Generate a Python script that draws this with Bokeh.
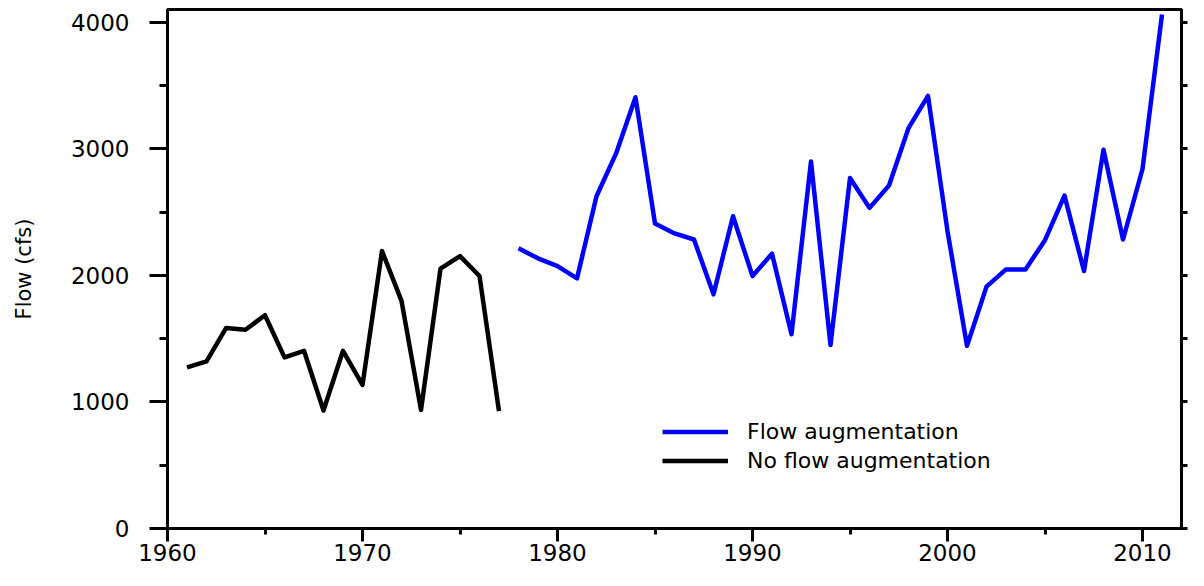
from bokeh.plotting import figure
from bokeh.models import (LinearAxis, SingleIntervalTicker, FixedTicker, Range1d, Legend, LegendItem)
from bokeh.embed import file_html
from bokeh.resources import INLINE

# ---- data ----
years_no = list(range(1961, 1978))
flow_no = [1273, 1320, 1583, 1570, 1685, 1352, 1404, 932, 1404, 1134,
           2192, 1798, 937, 2053, 2152, 1995, 927]

years_aug = list(range(1978, 2012))
flow_aug = [2213, 2134, 2073, 1976, 2625, 2961, 3407, 2409, 2331, 2283,
            1850, 2467, 1995, 2171, 1535, 2900, 1449, 2769, 2533, 2709,
            3163, 3417, 2350, 1443, 1911, 2047, 2047, 2278, 2630, 2034,
            2992, 2283, 2840, 4060]

right_ticks = [0, 500, 1000, 1500, 2000, 2500, 3000, 3500, 4000]

label_aug = "Flow augmentation"
label_no = "No flow augmentation"
y_label = "Flow (cfs)"

FONT = "DejaVu Sans"

p = figure(width=1188, height=570, output_backend="svg", toolbar_location=None,
           x_range=Range1d(1960, 2012), y_range=Range1d(0, 4100),
           min_border_left=167, min_border_right=7, min_border_top=9,
           min_border_bottom=42, x_axis_location=None, y_axis_location=None)

p.xgrid.visible = False
p.ygrid.visible = False
p.outline_line_color = "black"
p.outline_line_width = 3
p.background_fill_color = "white"
p.border_fill_color = "white"

r_aug = p.line(years_aug, flow_aug, line_color="#0000ff", line_width=4.5, line_join="round")
r_no = p.line(years_no, flow_no, line_color="black", line_width=4.5, line_join="round")

# bottom axis
xa = LinearAxis(ticker=SingleIntervalTicker(interval=10, num_minor_ticks=2))
xa.axis_line_width = 3
xa.major_tick_line_width = 3
xa.minor_tick_line_width = 3
xa.major_tick_out = 13
xa.major_tick_in = 0
xa.minor_tick_out = 6
xa.minor_tick_in = 0
xa.major_label_standoff = 2
xa.major_label_text_font = FONT
xa.major_label_text_font_size = "23px"
xa.major_label_text_color = "black"
p.add_layout(xa, "below")

# left axis
ya = LinearAxis(ticker=SingleIntervalTicker(interval=1000, num_minor_ticks=2))
ya.axis_line_width = 3
ya.major_tick_line_width = 3
ya.minor_tick_line_width = 3
ya.major_tick_out = 18
ya.major_tick_in = 0
ya.minor_tick_out = 8
ya.minor_tick_in = 0
ya.major_label_standoff = 20
ya.major_label_text_font = FONT
ya.major_label_text_font_size = "23px"
ya.major_label_text_color = "black"
ya.axis_label = y_label
ya.axis_label_text_font = FONT
ya.axis_label_text_font_size = "21px"
ya.axis_label_text_font_style = "normal"
ya.axis_label_text_color = "black"
ya.axis_label_standoff = 32
p.add_layout(ya, "left")

# right axis (ticks only, drawn as minor ticks so no labels)
ra = LinearAxis(ticker=FixedTicker(ticks=[], minor_ticks=right_ticks))
ra.axis_line_width = 3
ra.minor_tick_line_width = 3
ra.minor_tick_out = 6
ra.minor_tick_in = 0
ra.major_tick_line_color = None
p.add_layout(ra, "right")

legend = Legend(items=[LegendItem(label=label_aug, renderers=[r_aug]),
                       LegendItem(label=label_no, renderers=[r_no])],
                location=(495, 53))
legend.background_fill_alpha = 0
legend.border_line_color = None
legend.padding = 0
legend.margin = 0
legend.spacing = 0
legend.glyph_width = 66
legend.glyph_height = 29
legend.label_height = 29
legend.label_standoff = 19
legend.label_text_font = FONT
legend.label_text_font_size = "22px"
legend.label_text_color = "black"
p.add_layout(legend, "center")

open("out.html", "w").write(file_html(p, INLINE))
